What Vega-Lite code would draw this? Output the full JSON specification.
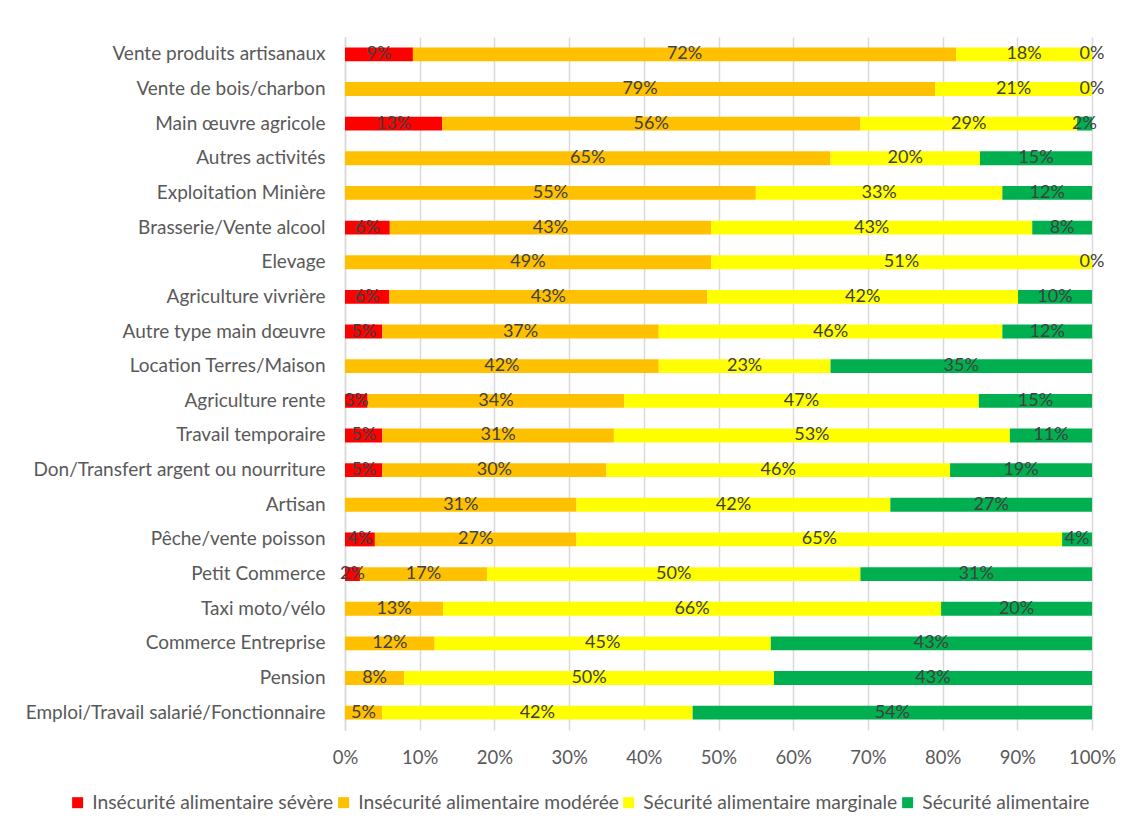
{
  "$schema": "https://vega.github.io/schema/vega-lite/v6.json",
  "width": 747,
  "height": 693,
  "autosize": {"type": "none"},
  "padding": {"left": 345, "top": 37, "right": 38, "bottom": 101},
  "background": "white",
  "config": {
    "font": "Lato",
    "view": {"stroke": null},
    "axis": {"labelFont": "Lato", "labelColor": "#595959"}
  },
  "data": {"values": [
    {"activite": "Vente produits artisanaux", "classe": "Insécurité alimentaire sévère", "pct": 0.09},
    {"activite": "Vente produits artisanaux", "classe": "Insécurité alimentaire modérée", "pct": 0.72},
    {"activite": "Vente produits artisanaux", "classe": "Sécurité alimentaire marginale", "pct": 0.18},
    {"activite": "Vente produits artisanaux", "classe": "Sécurité alimentaire", "pct": 0.0},
    {"activite": "Vente de bois/charbon", "classe": "Insécurité alimentaire modérée", "pct": 0.79},
    {"activite": "Vente de bois/charbon", "classe": "Sécurité alimentaire marginale", "pct": 0.21},
    {"activite": "Vente de bois/charbon", "classe": "Sécurité alimentaire", "pct": 0.0},
    {"activite": "Main œuvre agricole", "classe": "Insécurité alimentaire sévère", "pct": 0.13},
    {"activite": "Main œuvre agricole", "classe": "Insécurité alimentaire modérée", "pct": 0.56},
    {"activite": "Main œuvre agricole", "classe": "Sécurité alimentaire marginale", "pct": 0.29},
    {"activite": "Main œuvre agricole", "classe": "Sécurité alimentaire", "pct": 0.02},
    {"activite": "Autres activités", "classe": "Insécurité alimentaire modérée", "pct": 0.65},
    {"activite": "Autres activités", "classe": "Sécurité alimentaire marginale", "pct": 0.20},
    {"activite": "Autres activités", "classe": "Sécurité alimentaire", "pct": 0.15},
    {"activite": "Exploitation Minière", "classe": "Insécurité alimentaire modérée", "pct": 0.55},
    {"activite": "Exploitation Minière", "classe": "Sécurité alimentaire marginale", "pct": 0.33},
    {"activite": "Exploitation Minière", "classe": "Sécurité alimentaire", "pct": 0.12},
    {"activite": "Brasserie/Vente alcool", "classe": "Insécurité alimentaire sévère", "pct": 0.06},
    {"activite": "Brasserie/Vente alcool", "classe": "Insécurité alimentaire modérée", "pct": 0.43},
    {"activite": "Brasserie/Vente alcool", "classe": "Sécurité alimentaire marginale", "pct": 0.43},
    {"activite": "Brasserie/Vente alcool", "classe": "Sécurité alimentaire", "pct": 0.08},
    {"activite": "Elevage", "classe": "Insécurité alimentaire modérée", "pct": 0.49},
    {"activite": "Elevage", "classe": "Sécurité alimentaire marginale", "pct": 0.51},
    {"activite": "Elevage", "classe": "Sécurité alimentaire", "pct": 0.0},
    {"activite": "Agriculture vivrière", "classe": "Insécurité alimentaire sévère", "pct": 0.06},
    {"activite": "Agriculture vivrière", "classe": "Insécurité alimentaire modérée", "pct": 0.43},
    {"activite": "Agriculture vivrière", "classe": "Sécurité alimentaire marginale", "pct": 0.42},
    {"activite": "Agriculture vivrière", "classe": "Sécurité alimentaire", "pct": 0.10},
    {"activite": "Autre type main dœuvre", "classe": "Insécurité alimentaire sévère", "pct": 0.05},
    {"activite": "Autre type main dœuvre", "classe": "Insécurité alimentaire modérée", "pct": 0.37},
    {"activite": "Autre type main dœuvre", "classe": "Sécurité alimentaire marginale", "pct": 0.46},
    {"activite": "Autre type main dœuvre", "classe": "Sécurité alimentaire", "pct": 0.12},
    {"activite": "Location Terres/Maison", "classe": "Insécurité alimentaire modérée", "pct": 0.42},
    {"activite": "Location Terres/Maison", "classe": "Sécurité alimentaire marginale", "pct": 0.23},
    {"activite": "Location Terres/Maison", "classe": "Sécurité alimentaire", "pct": 0.35},
    {"activite": "Agriculture rente", "classe": "Insécurité alimentaire sévère", "pct": 0.03},
    {"activite": "Agriculture rente", "classe": "Insécurité alimentaire modérée", "pct": 0.34},
    {"activite": "Agriculture rente", "classe": "Sécurité alimentaire marginale", "pct": 0.47},
    {"activite": "Agriculture rente", "classe": "Sécurité alimentaire", "pct": 0.15},
    {"activite": "Travail temporaire", "classe": "Insécurité alimentaire sévère", "pct": 0.05},
    {"activite": "Travail temporaire", "classe": "Insécurité alimentaire modérée", "pct": 0.31},
    {"activite": "Travail temporaire", "classe": "Sécurité alimentaire marginale", "pct": 0.53},
    {"activite": "Travail temporaire", "classe": "Sécurité alimentaire", "pct": 0.11},
    {"activite": "Don/Transfert argent ou nourriture", "classe": "Insécurité alimentaire sévère", "pct": 0.05},
    {"activite": "Don/Transfert argent ou nourriture", "classe": "Insécurité alimentaire modérée", "pct": 0.30},
    {"activite": "Don/Transfert argent ou nourriture", "classe": "Sécurité alimentaire marginale", "pct": 0.46},
    {"activite": "Don/Transfert argent ou nourriture", "classe": "Sécurité alimentaire", "pct": 0.19},
    {"activite": "Artisan", "classe": "Insécurité alimentaire modérée", "pct": 0.31},
    {"activite": "Artisan", "classe": "Sécurité alimentaire marginale", "pct": 0.42},
    {"activite": "Artisan", "classe": "Sécurité alimentaire", "pct": 0.27},
    {"activite": "Pêche/vente poisson", "classe": "Insécurité alimentaire sévère", "pct": 0.04},
    {"activite": "Pêche/vente poisson", "classe": "Insécurité alimentaire modérée", "pct": 0.27},
    {"activite": "Pêche/vente poisson", "classe": "Sécurité alimentaire marginale", "pct": 0.65},
    {"activite": "Pêche/vente poisson", "classe": "Sécurité alimentaire", "pct": 0.04},
    {"activite": "Petit Commerce", "classe": "Insécurité alimentaire sévère", "pct": 0.02},
    {"activite": "Petit Commerce", "classe": "Insécurité alimentaire modérée", "pct": 0.17},
    {"activite": "Petit Commerce", "classe": "Sécurité alimentaire marginale", "pct": 0.50},
    {"activite": "Petit Commerce", "classe": "Sécurité alimentaire", "pct": 0.31},
    {"activite": "Taxi moto/vélo", "classe": "Insécurité alimentaire modérée", "pct": 0.13},
    {"activite": "Taxi moto/vélo", "classe": "Sécurité alimentaire marginale", "pct": 0.66},
    {"activite": "Taxi moto/vélo", "classe": "Sécurité alimentaire", "pct": 0.20},
    {"activite": "Commerce Entreprise", "classe": "Insécurité alimentaire modérée", "pct": 0.12},
    {"activite": "Commerce Entreprise", "classe": "Sécurité alimentaire marginale", "pct": 0.45},
    {"activite": "Commerce Entreprise", "classe": "Sécurité alimentaire", "pct": 0.43},
    {"activite": "Pension", "classe": "Insécurité alimentaire modérée", "pct": 0.08},
    {"activite": "Pension", "classe": "Sécurité alimentaire marginale", "pct": 0.50},
    {"activite": "Pension", "classe": "Sécurité alimentaire", "pct": 0.43},
    {"activite": "Emploi/Travail salarié/Fonctionnaire", "classe": "Insécurité alimentaire modérée", "pct": 0.05},
    {"activite": "Emploi/Travail salarié/Fonctionnaire", "classe": "Sécurité alimentaire marginale", "pct": 0.42},
    {"activite": "Emploi/Travail salarié/Fonctionnaire", "classe": "Sécurité alimentaire", "pct": 0.54}
  ]},
  "transform": [
    {"stack": "pct", "groupby": ["activite"], "offset": "normalize", "as": ["x0", "x1"]}
  ],
  "encoding": {
    "y": {
      "field": "activite", "type": "nominal", "sort": null, "title": null,
      "scale": {"paddingInner": 0.6, "paddingOuter": 0.3},
      "axis": {"ticks": false, "domain": true, "domainColor": "#D9D9D9", "domainWidth": 1.5, "labelFontSize": 19, "labelPadding": 20, "labelLimit": 400}
    }
  },
  "layer": [
    {
      "mark": {"type": "bar"},
      "encoding": {
        "x": {
          "field": "x0", "type": "quantitative", "title": null,
          "scale": {"domain": [0, 1], "nice": false},
          "axis": {"values": [0, 0.1, 0.2, 0.3, 0.4, 0.5, 0.6, 0.7, 0.8, 0.9, 1], "format": ".0%", "grid": true, "gridColor": "#D9D9D9", "gridWidth": 1.5, "domain": false, "ticks": false, "labelFontSize": 18.5, "labelPadding": 18, "labelFlush": false}
        },
        "x2": {"field": "x1"},
        "color": {
          "field": "classe", "type": "nominal", "title": null,
          "scale": {
            "domain": ["Insécurité alimentaire sévère", "Insécurité alimentaire modérée", "Sécurité alimentaire marginale", "Sécurité alimentaire"],
            "range": ["#FF0000", "#FFC000", "#FFFF00", "#00B050"]
          },
          "legend": {
            "orient": "none", "legendX": -277, "legendY": 756, "padding": 0, "direction": "horizontal", "columns": 4,
            "symbolType": "square", "symbolSize": 121, "symbolStrokeWidth": 0, "labelFontSize": 19.25, "labelColor": "#595959",
            "labelOffset": 5, "columnPadding": -3, "labelLimit": 400
          }
        }
      }
    },
    {
      "transform": [
        {"fold": ["x0", "x1"], "as": ["bord", "pos"]},
        {"aggregate": [{"op": "mean", "field": "pos", "as": "milieu"}], "groupby": ["activite", "classe", "pct"]}
      ],
      "mark": {"type": "text", "fontSize": 18, "color": "#404040", "baseline": "middle", "align": "center"},
      "encoding": {
        "x": {"field": "milieu", "type": "quantitative"},
        "text": {"field": "pct", "type": "quantitative", "format": ".0%"}
      }
    }
  ]
}
